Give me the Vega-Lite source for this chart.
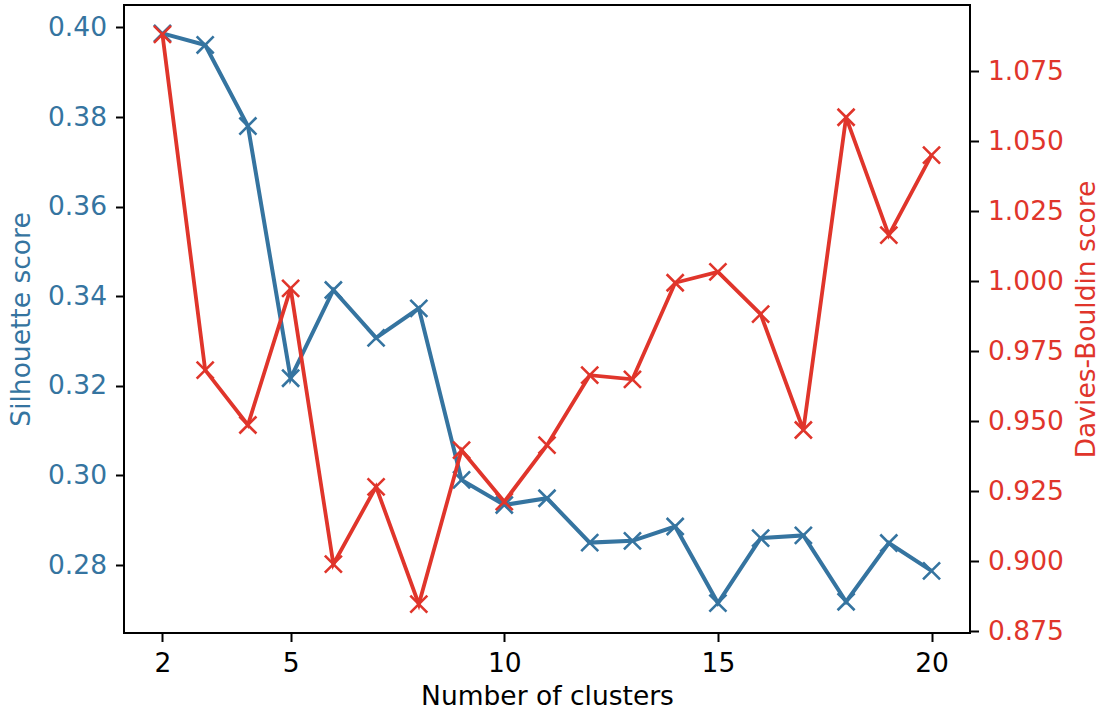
{
  "$schema": "https://vega.github.io/schema/vega-lite/v6.json",
  "width": 846,
  "height": 628,
  "autosize": "none",
  "padding": {"left": 124, "top": 5, "right": 132, "bottom": 82},
  "background": "white",
  "config": {
    "font": "DejaVu Sans",
    "view": {"stroke": "black", "strokeWidth": 2},
    "axis": {
      "grid": false,
      "domain": false,
      "tickColor": "black",
      "tickWidth": 2,
      "tickSize": 8.5,
      "labelFontSize": 26.5,
      "titleFontSize": 26.5,
      "titleFontWeight": "normal",
      "labelPadding": 9,
      "labelFont": "DejaVu Sans",
      "titleFont": "DejaVu Sans"
    }
  },
  "data": {
    "values": [
      {"k": 2, "silhouette": 0.3987, "davies_bouldin": 1.0881},
      {"k": 3, "silhouette": 0.3961, "davies_bouldin": 0.9682},
      {"k": 4, "silhouette": 0.3780, "davies_bouldin": 0.9486},
      {"k": 5, "silhouette": 0.3217, "davies_bouldin": 0.9974},
      {"k": 6, "silhouette": 0.3414, "davies_bouldin": 0.8989},
      {"k": 7, "silhouette": 0.3307, "davies_bouldin": 0.9265},
      {"k": 8, "silhouette": 0.3373, "davies_bouldin": 0.8846},
      {"k": 9, "silhouette": 0.2990, "davies_bouldin": 0.9396},
      {"k": 10, "silhouette": 0.2934, "davies_bouldin": 0.9212},
      {"k": 11, "silhouette": 0.2949, "davies_bouldin": 0.9414},
      {"k": 12, "silhouette": 0.2850, "davies_bouldin": 0.9664},
      {"k": 13, "silhouette": 0.2854, "davies_bouldin": 0.9649},
      {"k": 14, "silhouette": 0.2886, "davies_bouldin": 0.9994},
      {"k": 15, "silhouette": 0.2715, "davies_bouldin": 1.0033},
      {"k": 16, "silhouette": 0.2860, "davies_bouldin": 0.9882},
      {"k": 17, "silhouette": 0.2866, "davies_bouldin": 0.9468},
      {"k": 18, "silhouette": 0.2718, "davies_bouldin": 1.0585},
      {"k": 19, "silhouette": 0.2849, "davies_bouldin": 1.0164},
      {"k": 20, "silhouette": 0.2787, "davies_bouldin": 1.0450}
    ]
  },
  "encoding": {
    "x": {
      "field": "k",
      "type": "quantitative",
      "title": "Number of clusters",
      "scale": {"domain": [1.1, 20.9], "nice": false, "zero": false},
      "axis": {"values": [2, 5, 10, 15, 20], "labelColor": "black", "titleColor": "black", "titlePadding": 6}
    }
  },
  "layer": [
    {
      "encoding": {
        "y": {
          "field": "silhouette",
          "type": "quantitative",
          "title": "Silhouette score",
          "scale": {"domain": [0.26482, 0.40502], "nice": false, "zero": false},
          "axis": {
            "orient": "left",
            "values": [0.28, 0.30, 0.32, 0.34, 0.36, 0.38, 0.40],
            "format": ".2f",
            "labelColor": "#3574a0",
            "titleColor": "#3574a0",
            "titlePadding": 12
          }
        }
      },
      "layer": [
        {"mark": {"type": "line", "color": "#3574a0", "strokeWidth": 4}},
        {
          "mark": {
            "type": "point",
            "shape": "M-1,-1L1,1M-1,1L1,-1",
            "filled": false,
            "color": "#3574a0",
            "strokeWidth": 2.6,
            "size": 290,
            "opacity": 1
          }
        }
      ]
    },
    {
      "encoding": {
        "y": {
          "field": "davies_bouldin",
          "type": "quantitative",
          "title": "Davies-Bouldin score",
          "scale": {"domain": [0.8743, 1.0986], "nice": false, "zero": false},
          "axis": {
            "orient": "right",
            "values": [0.875, 0.9, 0.925, 0.95, 0.975, 1.0, 1.025, 1.05, 1.075],
            "format": ".3f",
            "labelColor": "#e0352b",
            "titleColor": "#e0352b",
            "titleAngle": 270,
            "titleBaseline": "top",
            "titlePadding": 10
          }
        }
      },
      "layer": [
        {"mark": {"type": "line", "color": "#e0352b", "strokeWidth": 3.8}},
        {
          "mark": {
            "type": "point",
            "shape": "M-1,-1L1,1M-1,1L1,-1",
            "filled": false,
            "color": "#e0352b",
            "strokeWidth": 2.6,
            "size": 290,
            "opacity": 1
          }
        }
      ]
    }
  ],
  "resolve": {"scale": {"y": "independent"}}
}
